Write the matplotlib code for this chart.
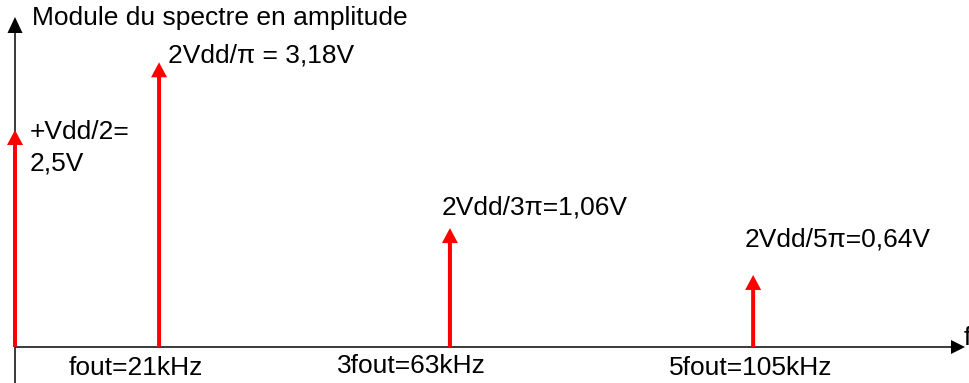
import matplotlib
matplotlib.use('Agg')
import matplotlib.pyplot as plt

# Data
freq_pos = [0, 21, 63.4, 107.6]          # arrow positions along f (kHz-like units)
amp_drawn = [2.5, 3.28, 1.37, 0.83]      # drawn arrow heights
amp_labels = ['+Vdd/2=\n2,5V', '2Vdd/\u03c0 = 3,18V', '2Vdd/3\u03c0=1,06V', '2Vdd/5\u03c0=0,64V']
freq_labels = ['fout=21kHz', '3fout=63kHz', '5fout=105kHz']
y_title = 'Module du spectre en amplitude'
x_title = 'f'

W, H = 969, 383
DPI = 100
plt.rcParams['font.family'] = ['Liberation Sans', 'DejaVu Sans']
FS = 19

fig = plt.figure(figsize=(W / DPI, H / DPI), dpi=DPI)
ax = fig.add_axes([0, 0, 1, 1])
# pixel mapping: x=0 at px 15, 6.86 px per unit ; y=0 at px 347 (from top), 86.8 px per unit
sx, sy = 6.86, 86.8
x0p, y0p = 15, 347
ax.set_xlim(-x0p / sx, (W - x0p) / sx)
ax.set_ylim(-(H - y0p) / sy, y0p / sy)
ax.axis('off')

def px(xp, yp):
    return ((xp - x0p) / sx, (y0p - yp) / sy)

# axes with arrows
xmax = px(965, 0)[0]
ymax = px(0, 17)[1]
ybot = ax.get_ylim()[0]
ax.arrow(0, 0, xmax, 0, width=1.5 / sy, head_width=14 / sy, head_length=14 / sx,
         length_includes_head=True, color='black', lw=0)
ax.arrow(0, ybot, 0, ymax - ybot, width=1.5 / sx, head_width=15 / sx, head_length=16 / sy,
         length_includes_head=True, color='black', lw=0)

# red spectral lines
for x, h in zip(freq_pos, amp_drawn):
    ax.arrow(x, 0, 0, h, width=4 / sx, head_width=16 / sx, head_length=15 / sy,
             length_includes_head=True, color='red', lw=0, zorder=3)

# texts
ax.text(*px(32, 18), y_title, fontsize=FS, ha='left', va='center')
ax.text(*px(30, 132), amp_labels[0].split('\n')[0], fontsize=FS, ha='left', va='center')
ax.text(*px(30, 163), amp_labels[0].split('\n')[1], fontsize=FS, ha='left', va='center')
ax.text(*px(168, 55), amp_labels[1], fontsize=FS, ha='left', va='center')
ax.text(*px(442, 208), amp_labels[2], fontsize=FS, ha='left', va='center')
ax.text(*px(745, 240), amp_labels[3], fontsize=FS, ha='left', va='center')
ax.text(*px(136, 368), freq_labels[0], fontsize=FS, ha='center', va='center')
ax.text(*px(411, 366), freq_labels[1], fontsize=FS, ha='center', va='center')
ax.text(*px(751, 368), freq_labels[2], fontsize=FS, ha='center', va='center')
ax.text(*px(964, 338), x_title, fontsize=FS, ha='left', va='center')

fig.savefig('out.png', dpi=DPI)
